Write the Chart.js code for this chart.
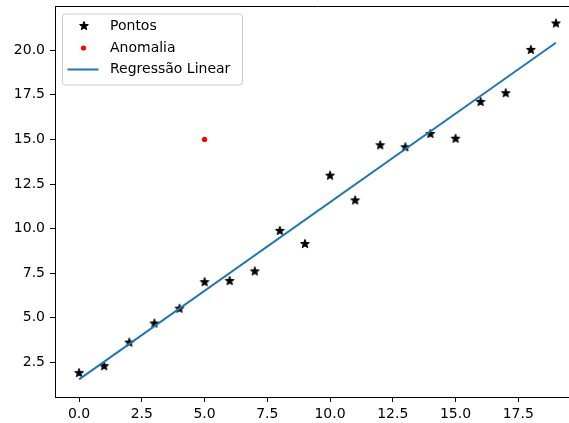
<!DOCTYPE html>
<html>
<head>
<meta charset="utf-8">
<script src="https://cdn.jsdelivr.net/npm/chart.js@4"></script>
<style>
  html, body { margin: 0; padding: 0; background: #fff; overflow: hidden; }
  #wrap { width: 600px; height: 423px; }
</style>
</head>
<body>
<div id="wrap"><canvas id="chart" width="600" height="423"></canvas></div>
<script>
const xValues = [0, 1, 2, 3, 4, 5, 6, 7, 8, 9, 10, 11, 12, 13, 14, 15, 16, 17, 18, 19];
const pontosY = [1.90, 2.29, 3.61, 4.68, 5.51, 7.00, 7.06, 7.60, 9.87, 9.14,
                 12.97, 11.58, 14.67, 14.56, 15.31, 15.04, 17.10, 17.59, 20.02, 21.50];
const anomaliaX = [5];
const anomaliaY = [15.0];
const regressaoX = [0, 19];
const regressaoY = [1.55, 20.42];
const xTicks = [0, 2.5, 5, 7.5, 10, 12.5, 15, 17.5];
const yTicks = [2.5, 5, 7.5, 10, 12.5, 15, 17.5, 20];

const FONT = "'DejaVu Sans', sans-serif";

// matplotlib-like filled star marker
function makeStar() {
  const c = document.createElement("canvas");
  c.width = 12;
  c.height = 12;
  const ctx = c.getContext("2d");
  ctx.beginPath();
  for (let i = 0; i < 10; i++) {
    const r = i % 2 === 0 ? 4.6 : 1.9;
    const a = -Math.PI / 2 + i * Math.PI / 5;
    ctx.lineTo(6 + r * Math.cos(a), 6 + r * Math.sin(a));
  }
  ctx.closePath();
  ctx.fillStyle = "#000";
  ctx.fill();
  ctx.lineWidth = 1;
  ctx.strokeStyle = "#000";
  ctx.stroke();
  return c;
}
const starImg = makeStar();

const topSpine = {
  id: "topSpine",
  beforeDatasetsDraw(chart) {
    const { ctx, chartArea } = chart;
    ctx.save();
    ctx.strokeStyle = "#000";
    ctx.lineWidth = 1;
    ctx.beginPath();
    ctx.moveTo(chartArea.left, chartArea.top + 0.5);
    ctx.lineTo(chartArea.right, chartArea.top + 0.5);
    ctx.stroke();
    ctx.restore();
  }
};

function roundRect(ctx, x, y, w, h, r) {
  ctx.beginPath();
  ctx.moveTo(x + r, y);
  ctx.lineTo(x + w - r, y);
  ctx.arcTo(x + w, y, x + w, y + r, r);
  ctx.lineTo(x + w, y + h - r);
  ctx.arcTo(x + w, y + h, x + w - r, y + h, r);
  ctx.lineTo(x + r, y + h);
  ctx.arcTo(x, y + h, x, y + h - r, r);
  ctx.lineTo(x, y + r);
  ctx.arcTo(x, y, x + r, y, r);
  ctx.closePath();
}

// legend box drawn inside the plot, upper left
const innerLegend = {
  id: "innerLegend",
  afterDatasetsDraw(chart) {
    const { ctx, chartArea } = chart;
    const bx = chartArea.left + 7.5, by = chartArea.top + 8;
    ctx.save();
    roundRect(ctx, bx, by, 180, 71, 3);
    ctx.fillStyle = "rgba(255,255,255,0.8)";
    ctx.fill();
    ctx.strokeStyle = "#cccccc";
    ctx.lineWidth = 1;
    ctx.stroke();

    const mx = chartArea.left + 29;
    const tx = chartArea.left + 55;
    const rows = [chartArea.top + 20, chartArea.top + 42, chartArea.top + 63.5];
    const ds = chart.data.datasets;

    ctx.drawImage(starImg, mx - 6, rows[0] - 6);

    ctx.beginPath();
    ctx.arc(mx - 0.5, rows[1], 2.6, 0, Math.PI * 2);
    ctx.fillStyle = "#ff0000";
    ctx.fill();

    ctx.beginPath();
    ctx.moveTo(chartArea.left + 12.5, rows[2]);
    ctx.lineTo(chartArea.left + 43.5, rows[2]);
    ctx.strokeStyle = "#1f77b4";
    ctx.lineWidth = 2;
    ctx.stroke();

    ctx.fillStyle = "#000";
    ctx.font = "14px " + FONT;
    ctx.textBaseline = "middle";
    ctx.textAlign = "left";
    ds.forEach((d, i) => ctx.fillText(d.label, tx, rows[i]));
    ctx.restore();
  }
};

const tickFont = { family: FONT, size: 14 };

new Chart(document.getElementById("chart"), {
  type: "scatter",
  data: {
    datasets: [
      {
        label: "Pontos",
        data: xValues.map((x, i) => ({ x, y: pontosY[i] })),
        pointStyle: starImg,
        pointRadius: 5,
        order: 2
      },
      {
        label: "Anomalia",
        data: anomaliaX.map((x, i) => ({ x, y: anomaliaY[i] })),
        pointStyle: "circle",
        pointRadius: 2.6,
        pointBorderWidth: 0,
        backgroundColor: "#ff0000",
        borderColor: "#ff0000",
        order: 1
      },
      {
        label: "Regressão Linear",
        data: regressaoX.map((x, i) => ({ x, y: regressaoY[i] })),
        showLine: true,
        pointRadius: 0,
        borderColor: "#1f77b4",
        borderWidth: 2,
        order: 0
      }
    ]
  },
  options: {
    responsive: false,
    animation: false,
    devicePixelRatio: 1,
    layout: { padding: { top: 6, right: 20, left: 0, bottom: 0 } },
    plugins: {
      legend: { display: false },
      tooltip: { enabled: false }
    },
    scales: {
      x: {
        type: "linear",
        min: -0.96,
        max: 19.96,
        afterBuildTicks: s => { s.ticks = xTicks.map(v => ({ value: v })); },
        afterFit: s => { s.height = 26; s.paddingLeft = 0; s.paddingRight = 0; },
        ticks: {
          callback: v => v.toFixed(1),
          font: tickFont,
          color: "#000",
          padding: 4,
          maxRotation: 0,
          autoSkip: false
        },
        grid: { drawOnChartArea: false, drawTicks: true, tickLength: 5, tickColor: "#000", tickWidth: 1 },
        border: { display: true, color: "#000", width: 1 }
      },
      y: {
        type: "linear",
        min: 0.56,
        max: 22.48,
        afterBuildTicks: s => { s.ticks = yTicks.map(v => ({ value: v })); },
        afterFit: s => { s.width = 55; s.paddingTop = 0; s.paddingBottom = 0; },
        ticks: {
          callback: v => v.toFixed(1),
          font: tickFont,
          color: "#000",
          padding: 5,
          autoSkip: false
        },
        grid: { drawOnChartArea: false, drawTicks: true, tickLength: 5, tickColor: "#000", tickWidth: 1 },
        border: { display: true, color: "#000", width: 1 }
      }
    }
  },
  plugins: [topSpine, innerLegend]
});
</script>
</body>
</html>
